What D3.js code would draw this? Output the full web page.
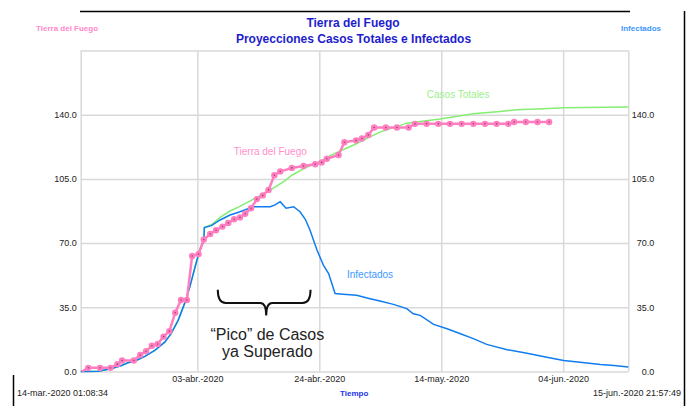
<!DOCTYPE html>
<html>
<head>
<meta charset="utf-8">
<title>Tierra del Fuego</title>
<script src="https://cdn.jsdelivr.net/npm/d3@7"></script>
<style>
body { margin: 0; background: #fff; }
svg { display: block; font-family: "Liberation Sans", Arial, Helvetica, sans-serif; }
.grid line { stroke: #d9d9d9; stroke-width: 1.5; }
.grid .domain { display: none; }
.axis text { font-size: 9px; fill: #222; }
.axis .domain, .axis line { display: none; }
</style>
</head>
<body>
<div id="chart"></div>
<script>
// time in days since 14-mar.-2020 01:08:34
var startLabel = "14-mar.-2020 01:08:34",
    endLabel = "15-jun.-2020 21:57:49",
    endDay = 93.87;

var tickDays = [20, 40.9, 61.8, 82.7],
    tickLabels = ["03-abr.-2020", "24-abr.-2020", "14-may.-2020", "04-jun.-2020"];
var yTicks = [0, 35, 70, 105, 140, 175];

// Tierra del Fuego (reported cases)
var tdfDays = [0.2, 1.3, 3.3, 5.1, 6.3, 7.1, 9.1, 10.2, 11.2, 12.2, 13.2, 14.2, 15.2, 16.2, 17.2, 18.2,
    19.1, 20.2, 21.1, 22.2, 23.2, 24.3, 25.3, 26.3, 27.3, 28.2, 29.2, 30.2, 31.2, 32.2, 33.2, 34.2,
    36.2, 38.2, 40.2, 41.3, 42.2, 44.2, 45.2, 47.2, 48.2, 49.3, 50.3, 52.3, 54.2, 56.2, 57.3, 59.3,
    61.3, 63.3, 65.3, 67.3, 69.3, 71.3, 73.3, 74.3, 76.3, 78.3, 80.3];
var tdfValues = [0, 2, 2, 2, 4, 6, 6, 9, 11, 14, 15, 19, 22, 32, 39, 39,
    63, 64, 72, 75, 77, 79, 81, 83, 84, 86, 89, 94, 96, 99, 107, 109,
    111, 112, 113, 114, 116, 118, 125, 126, 127, 129, 133, 133, 133, 133, 135, 135,
    135, 135, 135, 135, 135, 135, 135, 136, 136, 136, 136];

// Casos Totales (projection)
var totDays = [0, 3, 5.2, 7, 8.1, 9.5, 11, 12.7, 14.4, 15.5, 16.7, 17.8, 18.7, 19.6, 20.4, 21.1, 21.2,
    22.4, 23.9, 25.6, 27.3, 29.6, 32.5, 34.8, 36.2, 38.5, 41, 43.3, 46.8, 49, 51.3, 55.9,
    61.6, 67.3, 71.4, 74.8, 79.3, 82.8, 93.87];
var totValues = [0, 0.2, 1.5, 3.3, 4.8, 6, 8.2, 11.5, 16, 20.6, 27.9, 37, 46, 57, 66.2, 71, 78.5,
    80, 84, 87.5, 90, 94, 99, 103.5, 107, 111, 114.5, 118.5, 123.5, 127, 130.5, 135.4,
    137.6, 140.5, 141.6, 142.7, 143.2, 143.8, 144.2];

// Infectados (projection)
var infDays = [0, 3, 5.2, 7, 8.1, 9.5, 11, 12.7, 14.4, 15.5, 16.7, 17.8, 18.7, 19.6, 20.4, 21.1, 21.2,
    22.4, 23.9, 25.6, 27.3, 29.6, 32.5, 33.3, 34.2, 35.2, 36.5, 37.6, 38.5, 39.3, 40.5, 41.6, 42.5,
    43.6, 45, 47.3, 49.6, 51.3, 53.6, 55.9, 57, 58.2, 60.5, 62.8, 65.1, 67.3, 69.6, 73.1, 76.5,
    79.9, 82.8, 85.6, 89.1, 91.4, 93.87];
var infValues = [0, 0.2, 1.5, 3.3, 4.8, 6, 8.2, 11.5, 16, 20.6, 27.9, 37, 46, 57, 66.2, 71, 78.5,
    79.5, 82.6, 85.3, 87.1, 89.8, 89.8, 90.8, 92.6, 89, 89.8, 87.1, 83, 77.1, 66.2, 58, 53.4,
    42.5, 42.1, 41.6, 39.7, 38.4, 36.6, 34.3, 31.5, 30.6, 25.7, 23.3, 20.6, 17.9, 14.8, 11.9, 10,
    7.8, 6, 5.1, 3.8, 3.3, 2.4];

var W = 694, H = 406;
var margin = {top: 50.5, right: 65.7, bottom: 34.5, left: 80.7},
    width = W - margin.left - margin.right,
    height = H - margin.top - margin.bottom;

var pink = "#ff7ec0", blue = "#0f7df0", green = "#84ee72", titleBlue = "#1d1dcc";

var x = d3.scaleLinear().domain([0, endDay]).range([0, width]);
var y = d3.scaleLinear().domain([0, 175]).range([height, 0]);

var svg = d3.select("#chart").append("svg")
    .attr("width", W)
    .attr("height", H);

// window frame lines
svg.append("line").attr("x1", 80).attr("x2", 630).attr("y1", 11.5).attr("y2", 11.5)
    .attr("stroke", "#000").attr("stroke-width", 1.5);
svg.append("line").attr("x1", 684.5).attr("x2", 684.5).attr("y1", 11).attr("y2", H)
    .attr("stroke", "#000").attr("stroke-width", 1.5);
svg.append("line").attr("x1", 13.5).attr("x2", 13.5).attr("y1", 375).attr("y2", H)
    .attr("stroke", "#000").attr("stroke-width", 1.5);

var g = svg.append("g")
    .attr("transform", "translate(" + [margin.left, margin.top] + ")");

// gridlines
g.append("g").attr("class", "grid")
    .call(d3.axisLeft(y).tickValues(yTicks).tickSize(-width).tickFormat(""));
g.append("g").attr("class", "grid")
    .attr("transform", "translate(0," + height + ")")
    .call(d3.axisBottom(x).tickValues([0].concat(tickDays, [endDay])).tickSize(-height).tickFormat(""));

// axes labels
var fmt = d3.format(".1f");
g.append("g").attr("class", "axis")
    .call(d3.axisLeft(y).tickValues(yTicks.slice(0, 5)).tickFormat(fmt).tickSize(0).tickPadding(4));
g.append("g").attr("class", "axis")
    .attr("transform", "translate(" + (width + 26) + ",0)")
    .call(d3.axisLeft(y).tickValues(yTicks.slice(0, 5)).tickFormat(fmt).tickSize(0).tickPadding(0));
g.append("g").attr("class", "axis")
    .attr("transform", "translate(0," + height + ")")
    .call(d3.axisBottom(x).tickValues(tickDays).tickFormat(function(d, i) { return tickLabels[i]; })
        .tickSize(0).tickPadding(4));

var line = d3.line()
    .x(function(d) { return x(d[0]); })
    .y(function(d) { return y(d[1]); });

var tot = d3.zip(totDays, totValues),
    inf = d3.zip(infDays, infValues),
    tdf = d3.zip(tdfDays, tdfValues);

g.append("path").datum(tot)
    .attr("fill", "none").attr("stroke", green).attr("stroke-width", 1.5)
    .attr("d", line);
g.append("path").datum(inf)
    .attr("fill", "none").attr("stroke", blue).attr("stroke-width", 1.5)
    .attr("d", line);
g.append("path").datum(tdf)
    .attr("fill", "none").attr("stroke", pink).attr("stroke-width", 2.5)
    .attr("d", line);

// markers on reported days (the first point is the series start)
var dots = g.selectAll(".dot")
    .data(tdf.slice(1))
  .enter().append("g")
    .attr("class", "dot")
    .attr("transform", function(d) { return "translate(" + [x(d[0]), y(d[1])] + ")"; });
dots.append("circle").attr("r", 3.2).attr("fill", pink);
dots.append("circle").attr("r", 0.8).attr("fill", "#a0406e");

// series labels
g.append("text").attr("x", x(64.7)).attr("y", y(148.9)).attr("text-anchor", "middle")
    .attr("fill", "#9cf08c").style("font-size", "10px").text("Casos Totales");
g.append("text").attr("x", x(32.5)).attr("y", y(118.3)).attr("text-anchor", "middle")
    .attr("fill", "#ff8fca").style("font-size", "10px").text("Tierra del Fuego");
g.append("text").attr("x", x(49.6)).attr("y", y(51)).attr("text-anchor", "middle")
    .attr("fill", "#3d97ff").style("font-size", "10px").text("Infectados");

// brace annotation
var bx0 = x(23.5), bx1 = x(39.4), bm = x(31.8),
    yt = y(44.5), yb = y(37.3), ytip = y(30.5);
var brace = d3.path();
brace.moveTo(bx0, yt);
brace.quadraticCurveTo(bx0, yb, bx0 + 8, yb);
brace.lineTo(bm - 6, yb);
brace.quadraticCurveTo(bm, yb, bm, ytip);
brace.quadraticCurveTo(bm, yb, bm + 6, yb);
brace.lineTo(bx1 - 8, yb);
brace.quadraticCurveTo(bx1, yb, bx1, yt);
g.append("path").attr("d", brace.toString())
    .attr("fill", "none").attr("stroke", "#111").attr("stroke-width", 2);

var note = g.append("text").attr("text-anchor", "middle").attr("fill", "#222").style("font-size", "16px");
note.append("tspan").attr("x", x(32)).attr("y", y(17.1)).text("\u201cPico\u201d de Casos");
note.append("tspan").attr("x", x(32)).attr("y", y(7.8)).text("ya Superado");

// titles
svg.append("text").attr("x", 353).attr("y", 26.5).attr("text-anchor", "middle")
    .attr("fill", titleBlue).style("font-size", "12px").style("font-weight", "bold")
    .text("Tierra del Fuego");
svg.append("text").attr("x", 353.5).attr("y", 43.3).attr("text-anchor", "middle")
    .attr("fill", titleBlue).style("font-size", "12px").style("font-weight", "bold")
    .text("Proyecciones Casos Totales e Infectados");
svg.append("text").attr("x", 36).attr("y", 31).attr("fill", "#ff88cc")
    .style("font-size", "8px").style("font-weight", "bold").text("Tierra del Fuego");
svg.append("text").attr("x", 661).attr("y", 30.7).attr("text-anchor", "end").attr("fill", "#3d97ff")
    .style("font-size", "8px").style("font-weight", "bold").text("Infectados");

// bottom labels
svg.append("text").attr("x", 17).attr("y", 396).attr("fill", "#222")
    .style("font-size", "9px").text(startLabel);
svg.append("text").attr("x", 681).attr("y", 396).attr("text-anchor", "end").attr("fill", "#222")
    .style("font-size", "9px").text(endLabel);
svg.append("text").attr("x", 340).attr("y", 395.7).attr("fill", "#2233ee")
    .style("font-size", "8px").style("font-weight", "bold").text("Tiempo");
</script>
</body>
</html>
